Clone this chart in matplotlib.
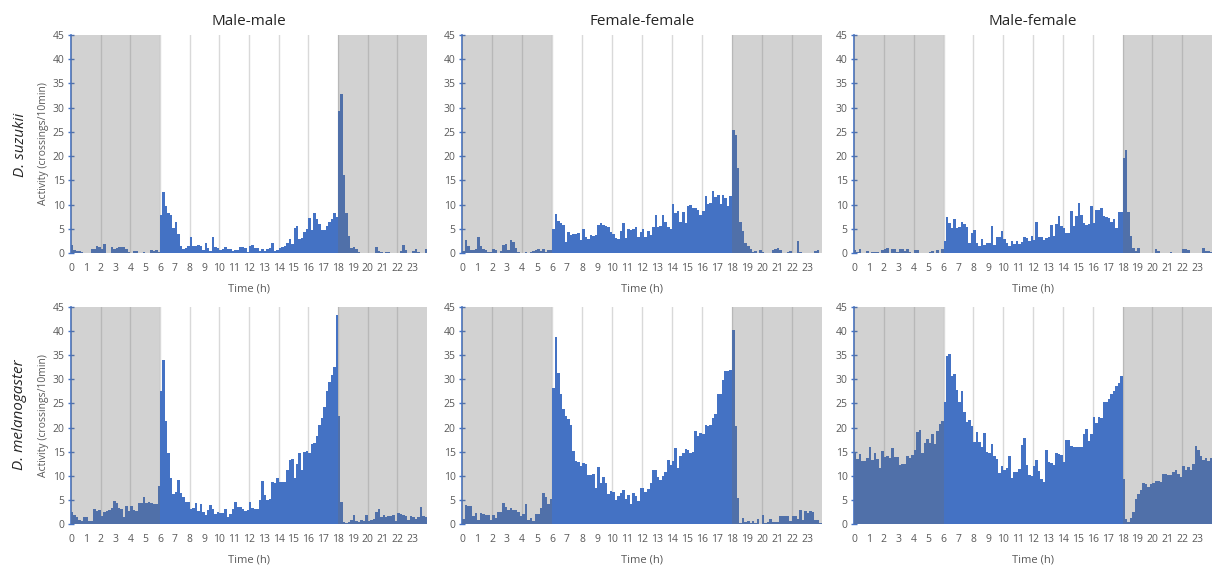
import matplotlib.pyplot as plt
import numpy as np

# activity per 10 min bin (144 bins = 24 h)
suz_mm = [1.7, 0.6, 0.5, 0.5, 0.3, 0.0,  0.0, 0.0, 0.9, 0.8, 1.5, 1.2,
          0.8, 1.9, 0.0, 0.0, 1.2, 0.8,  1.0, 1.2, 1.3, 1.2, 0.8, 0.3,
          0.0, 0.4, 0.5, 0.0, 0.0, 0.3,  0.0, 0.0, 0.7, 0.5, 0.6, 0.3,
          7.8, 12.5, 9.6, 8.2, 7.9, 5.2,  6.4, 3.9, 1.5, 0.8, 1.0, 1.5,
          3.4, 1.5, 1.5, 1.6, 1.5, 0.7,  2.1, 1.0, 0.5, 3.2, 1.2, 1.1,
          0.6, 0.8, 1.2, 0.9, 0.8, 0.5,  0.6, 0.6, 1.3, 1.3, 1.0, 0.3,
          1.5, 1.7, 1.0, 1.1, 0.5, 0.9,  0.5, 0.8, 1.0, 2.1, 0.5, 0.6,
          1.0, 1.2, 1.5, 2.0, 2.9, 1.8,  5.2, 5.5, 2.8, 3.1, 4.3, 5.0,
          7.3, 4.8, 8.3, 7.1, 6.0, 4.8,  4.8, 5.5, 6.3, 7.0, 8.3, 7.4,
          29.4, 32.8, 16.2, 8.3, 3.5, 1.0,  1.2, 0.8, 0.3, 0.0, 0.0, 0.0,
          0.0, 0.1, 0.0, 1.2, 0.4, 0.3,  0.0, 0.3, 0.2, 0.0, 0.0, 0.0,
          0.0, 0.5, 1.7, 0.6, 0.0, 0.0,  0.4, 0.8, 0.3, 0.0, 0.0, 0.8]

suz_ff = [0.5, 2.6, 1.4, 0.7, 0.6, 0.9,  3.3, 1.5, 0.9, 0.6, 0.3, 0.2,
          0.8, 0.7, 0.0, 0.5, 1.6, 1.9,  0.6, 2.6, 2.2, 1.0, 0.3, 0.0,
          0.1, 0.2, 0.0, 0.3, 0.5, 0.7,  0.8, 0.5, 0.8, 0.3, 0.7, 0.6,
          4.9, 8.0, 6.6, 6.2, 5.8, 2.2,  4.3, 3.8, 4.0, 3.9, 4.2, 2.6,
          5.0, 3.2, 2.9, 3.8, 3.5, 3.7,  5.8, 6.2, 5.7, 5.6, 5.3, 4.3,
          4.0, 3.0, 2.9, 4.5, 6.2, 3.0,  4.9, 4.8, 4.9, 5.3, 3.2, 4.4,
          5.0, 3.4, 4.6, 3.8, 5.3, 7.9,  5.3, 5.6, 7.9, 6.5, 5.3, 5.0,
          10.2, 8.2, 8.6, 6.3, 8.4, 6.2,  9.6, 9.9, 9.3, 9.3, 8.8, 7.8,
          8.6, 11.7, 10.2, 10.3, 12.8, 11.6,  11.9, 10.2, 11.9, 11.3, 9.6, 11.8,
          25.3, 24.4, 17.5, 6.3, 4.5, 2.0,  1.4, 0.8, 0.2, 0.5, 0.0, 0.6,
          0.3, 0.0, 0.0, 0.0, 0.6, 0.8,  1.0, 0.6, 0.0, 0.0, 0.3, 0.5,
          0.0, 0.0, 2.4, 0.3, 0.0, 0.0,  0.0, 0.0, 0.0, 0.4, 0.6, 0.0]

suz_mf = [0.6, 0.3, 0.8, 0.0, 0.0, 0.4,  0.0, 0.3, 0.3, 0.3, 0.0, 0.7,
          0.9, 1.0, 0.0, 0.8, 0.8, 0.3,  0.8, 0.8, 0.4, 0.9, 0.3, 0.0,
          0.7, 0.7, 0.0, 0.0, 0.0, 0.0,  0.2, 0.5, 0.0, 0.7, 0.0, 0.8,
          2.4, 7.4, 6.2, 5.2, 7.0, 5.2,  5.3, 6.5, 6.0, 5.3, 2.1, 4.1,
          4.8, 2.0, 1.4, 2.9, 1.7, 2.0,  2.0, 5.6, 1.7, 3.3, 3.3, 4.5,
          2.8, 2.0, 1.4, 2.4, 1.8, 2.5,  1.8, 2.3, 3.2, 3.0, 2.5, 3.6,
          2.7, 6.3, 3.4, 3.3, 2.7, 3.0,  3.4, 5.8, 3.6, 6.0, 7.6, 5.5,
          5.2, 4.1, 4.1, 8.6, 5.5, 7.6,  10.3, 7.9, 6.2, 5.8, 6.0, 9.6,
          6.2, 8.9, 8.9, 9.3, 7.6, 7.5,  7.2, 6.5, 7.0, 5.2, 8.4, 8.4,
          19.6, 21.3, 8.4, 3.6, 1.0, 0.5,  1.0, 0.0, 0.0, 0.0, 0.0, 0.0,
          0.0, 0.8, 0.5, 0.0, 0.0, 0.0,  0.0, 0.3, 0.0, 0.0, 0.0, 0.0,
          0.8, 0.9, 0.6, 0.0, 0.0, 0.0,  0.0, 0.0, 1.0, 0.5, 0.5, 0.3]

mel_mm = [2.5, 1.8, 1.5, 0.9, 0.7, 1.4,  1.4, 0.7, 0.6, 3.1, 2.6, 2.8,
          1.6, 2.5, 2.6, 2.8, 3.3, 4.8,  4.4, 3.3, 3.2, 1.4, 3.7, 2.6,
          3.7, 3.0, 2.6, 4.4, 4.4, 5.7,  4.4, 4.6, 4.4, 4.2, 4.2, 7.8,
          27.5, 34.1, 21.3, 14.7, 9.5, 6.3,  6.6, 9.2, 6.5, 5.6, 4.5, 4.5,
          3.2, 3.3, 4.3, 2.6, 4.2, 2.5,  1.8, 2.8, 3.9, 3.2, 2.0, 2.4,
          2.3, 2.3, 3.1, 1.4, 2.0, 3.2,  4.6, 3.5, 3.5, 3.2, 2.6, 2.9,
          4.5, 3.4, 3.1, 3.2, 4.9, 9.0,  6.1, 5.0, 5.2, 8.8, 8.6, 9.5,
          8.7, 8.7, 8.7, 11.2, 13.3, 13.5,  9.5, 12.5, 14.8, 11.1, 15.0, 15.1,
          14.7, 16.5, 16.8, 18.3, 20.5, 22.0,  24.3, 27.5, 29.4, 30.8, 32.5, 43.3,
          22.3, 4.5, 0.5, 0.3, 0.5, 0.9,  1.8, 0.7, 0.4, 0.8, 0.6, 1.9,
          0.6, 0.8, 1.0, 2.5, 3.1, 1.5,  1.8, 1.5, 1.6, 1.6, 1.9, 0.7,
          2.3, 2.1, 1.9, 1.6, 0.8, 1.6,  1.4, 1.0, 1.5, 3.5, 1.6, 1.5]

mel_ff = [1.1, 3.9, 3.8, 3.7, 1.6, 2.3,  0.8, 2.3, 2.0, 1.9, 1.9, 0.8,
          1.8, 1.2, 2.5, 2.5, 4.3, 3.6,  3.0, 3.3, 2.8, 2.9, 2.4, 1.6,
          2.0, 4.1, 0.8, 1.2, 0.7, 2.0,  2.0, 3.4, 6.4, 5.6, 4.2, 5.2,
          28.3, 38.7, 31.3, 27.0, 23.9, 22.5,  21.8, 20.6, 15.2, 13.0, 12.8, 12.0,
          12.6, 12.5, 10.2, 10.2, 10.3, 7.5,  11.8, 8.5, 9.8, 8.5, 6.2, 6.8,
          6.6, 5.0, 5.8, 6.5, 7.0, 5.2,  6.0, 4.2, 6.4, 5.9, 4.7, 7.5,
          7.4, 6.6, 7.3, 8.6, 11.3, 11.2,  9.8, 9.2, 9.9, 10.8, 13.2, 12.3,
          13.0, 15.7, 11.7, 14.0, 14.8, 15.6,  15.3, 14.8, 15.0, 19.2, 18.2, 18.8,
          18.7, 20.6, 20.4, 20.5, 21.9, 22.9,  26.9, 26.9, 29.8, 31.8, 31.7, 32.0,
          40.3, 20.3, 5.3, 0.3, 1.3, 0.5,  0.7, 0.3, 0.6, 0.2, 1.1, 0.0,
          1.9, 0.3, 0.5, 1.0, 0.5, 0.5,  0.5, 1.6, 1.7, 1.7, 1.6, 0.6,
          1.7, 1.7, 1.0, 3.0, 0.8, 2.6,  2.2, 2.6, 2.4, 0.9, 0.9, 0.3]

mel_mf = [14.9, 13.5, 14.6, 13.0, 13.0, 13.6,  15.9, 13.2, 14.7, 13.5, 11.6, 15.2,
          13.8, 14.0, 13.6, 15.8, 13.8, 13.8,  12.2, 12.5, 12.5, 14.0, 13.6, 14.3,
          15.3, 19.0, 19.4, 14.8, 16.8, 17.6,  16.7, 18.6, 16.5, 19.2, 20.8, 21.3,
          25.3, 34.9, 35.2, 30.7, 31.1, 27.8,  25.4, 27.5, 23.3, 21.2, 21.6, 20.4,
          17.0, 19.1, 17.0, 16.0, 18.8, 15.0,  14.8, 16.6, 14.0, 13.5, 10.6, 12.0,
          11.3, 11.6, 14.2, 9.6, 10.8, 10.8,  11.5, 16.4, 17.8, 12.3, 10.2, 10.0,
          12.0, 13.2, 11.0, 9.3, 8.8, 15.4,  12.8, 12.7, 12.3, 14.8, 14.5, 14.4,
          12.8, 17.5, 17.4, 16.2, 16.0, 15.9,  15.9, 16.0, 18.7, 19.6, 17.3, 18.6,
          22.1, 21.0, 22.2, 22.0, 25.3, 25.4,  26.0, 27.0, 27.6, 28.6, 29.3, 30.6,
          9.3, 1.1, 0.4, 1.2, 2.4, 5.2,  6.3, 7.0, 8.6, 8.3, 7.6, 8.3,
          8.5, 8.9, 9.0, 8.7, 10.4, 10.3,  10.2, 10.2, 10.8, 11.3, 10.3, 9.8,
          12.0, 11.2, 11.8, 11.1, 12.5, 16.1,  15.3, 14.2, 13.3, 13.7, 13.1, 13.7]

col_titles = ['Male-male', 'Female-female', 'Male-female']
row_titles = ['D. suzukii', 'D. melanogaster']
hours = list(range(24))

plt.rcParams['font.family'] = ['Open Sans', 'DejaVu Sans']
blue = '#4472C4'
txt = '#595959'

fig = plt.figure(figsize=(12.15, 5.68), dpi=100)
lefts = [71, 462, 854]
widths = [356, 360, 358]
bottoms = [253, 524]
heights = [218, 217]

panels = [[suz_mm, suz_ff, suz_mf], [mel_mm, mel_ff, mel_mf]]
edges = np.arange(145) / 6.0   # 10 min bin edges in hours

for r in range(2):
    for c in range(3):
        ax = fig.add_axes([lefts[c] / 1215, 1 - bottoms[r] / 568,
                           widths[c] / 1215, heights[r] / 568])
        # one filled step outline: touching bars with no seams
        ax.stairs(panels[r][c], edges, fill=True, color=blue, lw=0, zorder=2)
        for h in range(2, 24, 2):
            ax.axvline(h, color='#D9D9D9', lw=1, zorder=1)
        # night shading drawn over the bars
        ax.axvspan(0, 6, color='#6C6C6C', alpha=0.3, lw=0, zorder=3)
        ax.axvspan(18, 24, color='#6C6C6C', alpha=0.3, lw=0, zorder=3)
        ax.set_xlim(0, 24)
        ax.set_ylim(0, 45)
        ax.set_xticks(hours)
        ax.set_xticklabels([str(h) for h in hours], fontsize=7.5, color=txt)
        ax.tick_params(axis='x', length=0, pad=7)
        ax.set_yticks(range(0, 46, 5))
        ax.tick_params(axis='y', labelsize=7.5, labelcolor=txt, color=blue,
                       direction='inout', length=5, width=1, pad=2)
        for s in ['top', 'right', 'bottom']:
            ax.spines[s].set_visible(False)
        ax.spines['left'].set_color(blue)
        ax.spines['left'].set_linewidth(1.2)
        ax.set_xlabel('Time (h)', fontsize=8, color=txt, labelpad=7)
        if r == 0:
            ax.set_title(col_titles[c], fontsize=11, color='#262626', pad=7)
        if c == 0:
            ax.set_ylabel('Activity (crossings/10min)', fontsize=7.5,
                          color=txt, labelpad=3)

fig.text(20 / 1215, 1 - 145 / 568, row_titles[0], rotation=90, style='italic',
         fontsize=11, color='#262626', ha='center', va='center')
fig.text(20 / 1215, 1 - 415 / 568, row_titles[1], rotation=90, style='italic',
         fontsize=11, color='#262626', ha='center', va='center')

plt.savefig('out.png', dpi=100)
